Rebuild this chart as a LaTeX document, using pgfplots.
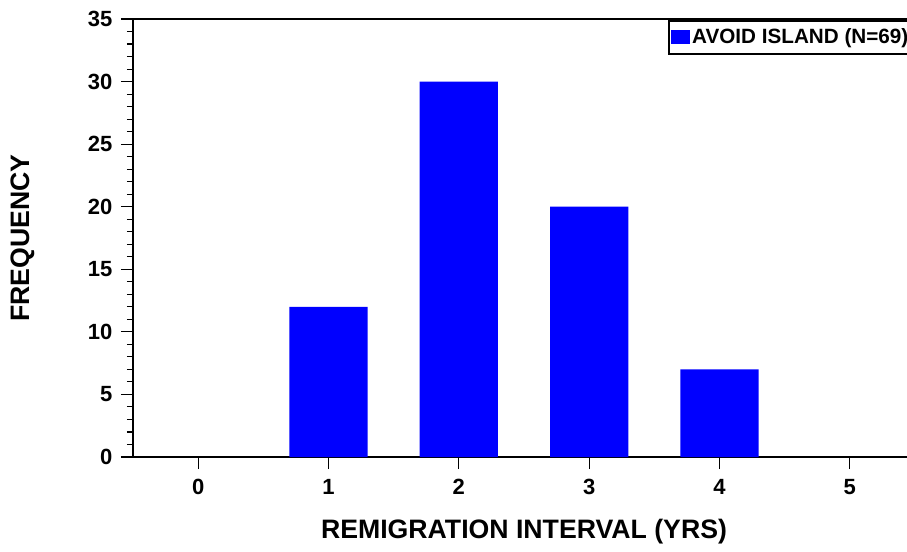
\documentclass[border=0pt]{standalone}
\usepackage{pgfplots}
\pgfplotsset{compat=1.18}
\usepackage{fontspec}
\setmainfont{Liberation Sans}
\begin{document}
\begin{tikzpicture}
\begin{axis}[
 at={(0,0)}, anchor=south west,
 scale only axis, width=586.5pt, height=328.5pt,
 xmin=-0.5, xmax=5.5, ymin=0, ymax=35,
 ybar, bar width=0.6,
 xtick={0,1,2,3,4,5}, ytick={0,5,...,35}, minor y tick num=4,
 tick align=outside, xtick pos=left, ytick pos=left,
 major tick length=9pt, minor tick length=4.5pt,
 axis line style={line width=1.6pt},
 every tick/.style={black, line width=0.8pt},
 tick label style={font=\fontsize{16.5}{19}\selectfont\bfseries},
 /pgf/number format/assume math mode=true,
 yticklabel style={xshift=-3pt},
 xticklabel style={yshift=-4pt},
 xlabel={REMIGRATION INTERVAL (YRS)}, ylabel={FREQUENCY},
 label style={font=\fontsize{20}{24}\selectfont\bfseries},
 xlabel style={at={(axis description cs:0.5,-0.17)}, anchor=center},
 ylabel style={at={(axis description cs:-0.1413,0.5)}, anchor=center},
 legend style={at={(axis description cs:0.684,0.998)}, anchor=north west,
   draw=black, line width=1.5pt, font=\fontsize{15.5}{18}\selectfont\bfseries,
   inner xsep=1.5pt, inner ysep=4pt},
 legend cell align=left,
 legend image code/.code={\fill[blue] (0pt,-5pt) rectangle (14pt,5.5pt);},
]
\addplot[fill=blue, draw=none] coordinates {(1,12) (2,30) (3,20) (4,7)};
\addlegendentry{AVOID ISLAND (N=69)}
\end{axis}
\pgfresetboundingbox
\path[use as bounding box] (-99.75pt,-70.5pt) rectangle (580.5pt,342.75pt);
\end{tikzpicture}
\end{document}
